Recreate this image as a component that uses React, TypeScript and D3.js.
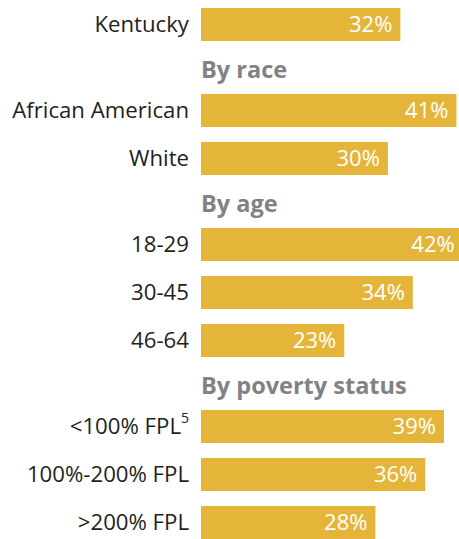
import React from "react";
import * as d3 from "d3";

const categories = [
  "Kentucky",
  "African American",
  "White",
  "18-29",
  "30-45",
  "46-64",
  "<100% FPL",
  "100%-200% FPL",
  ">200% FPL",
];
const values = [32, 41, 30, 42, 34, 23, 39, 36, 28];
const footnotes = ["", "", "", "", "", "", "5", "", ""];
const headings = ["By race", "By age", "By poverty status"];
const headingStarts = [1, 3, 6];

const W = 459;
const H = 539;
const BAR_COLOR = "#E5B53A";
const LABEL_COLOR = "#231F20";
const HEAD_COLOR = "#808285";
const FONT = "'Open Sans', 'Noto Sans', sans-serif";

export default function App() {
  const rowPitch = 48;
  const headPitch = 38;
  const top = 8;
  const barH = 33;
  const x0 = 201;

  const x = d3.scaleLinear().domain([0, 100]).range([0, 623]);
  const yUnits = d3.scaleLinear().domain([0, 1]).range([top, top + rowPitch]);

  const rowY = categories.map((_, i) => {
    const nHeads = headingStarts.filter((s) => s <= i).length;
    return yUnits(i + (nHeads * headPitch) / rowPitch);
  });

  return (
    <svg
      width={W}
      height={H}
      style={{ position: "absolute", left: 0, top: 0, display: "block" }}
      fontFamily={FONT}
    >
      {headings.map((h, k) => (
        <text
          key={h}
          x={x0}
          y={rowY[headingStarts[k]] - 16}
          fill={HEAD_COLOR}
          fontWeight={700}
          fontSize={23.5}
        >
          {h}
        </text>
      ))}
      {categories.map((c, i) => (
        <g key={c} transform={`translate(0,${rowY[i]})`}>
          <rect x={x0} y={0} width={x(values[i])} height={barH} fill={BAR_COLOR} />
          <text
            x={189}
            y={barH / 2}
            dy="0.36em"
            textAnchor="end"
            fill={LABEL_COLOR}
            fontSize={22.2}
          >
            {c}
            {footnotes[i] ? (
              <tspan fontSize={14} dy="-0.8em">
                {footnotes[i]}
              </tspan>
            ) : null}
          </text>
          <text
            x={x0 + x(values[i]) - 8}
            y={barH / 2}
            dy="0.36em"
            textAnchor="end"
            fill="#ffffff"
            fontSize={22}
          >
            {values[i]}%
          </text>
        </g>
      ))}
    </svg>
  );
}
